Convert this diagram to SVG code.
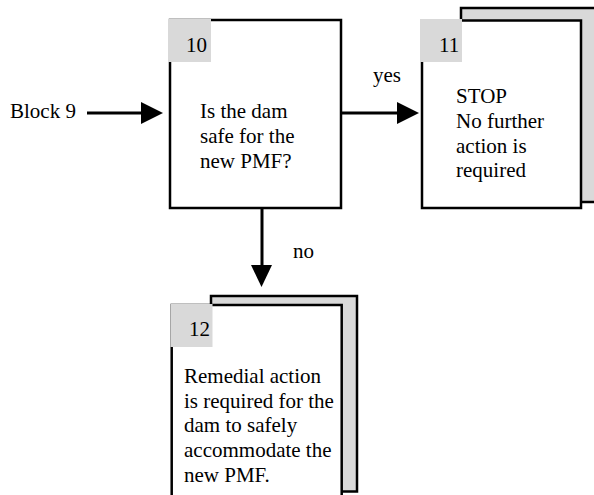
<svg xmlns="http://www.w3.org/2000/svg" width="594" height="495" viewBox="0 0 594 495">
<style>
text{font-family:"Liberation Serif","Times New Roman",serif;font-size:21px;fill:#000}
.box{fill:#fff;stroke:#000;stroke-width:2.5}
.shadow{fill:#d9d9d9;stroke:#000;stroke-width:2.5}
.tag{fill:#d9d9d9}
.ln{stroke:#000;stroke-width:3;fill:none}
.ah{fill:#000}
</style>
<rect width="594" height="495" fill="#fff"/>
<g id="connectors">
<text x="10" y="118">Block 9</text>
<line class="ln" x1="87" y1="113" x2="145" y2="113"/>
<polygon class="ah" points="141,102 163,113 141,124"/>
<line class="ln" x1="341" y1="113" x2="400" y2="113"/>
<polygon class="ah" points="397,102 419,113 397,124"/>
<text x="373" y="82">yes</text>
<line class="ln" x1="262" y1="208" x2="262" y2="268"/>
<polygon class="ah" points="251,265 272,265 261.5,287"/>
<text x="293" y="258">no</text>
</g>
<g id="node10">
<rect class="box" x="170" y="20" width="171" height="188"/>
<rect class="tag" x="168" y="19" width="43" height="43"/>
<text x="186" y="52">10</text>
<text x="200" y="118">Is the dam</text>
<text x="200" y="143">safe for the</text>
<text x="200" y="168">new PMF?</text>
</g>
<g id="node11">
<rect class="shadow" x="461" y="8" width="150" height="194"/>
<rect class="box" x="422" y="20.5" width="159" height="187.5"/>
<rect class="tag" x="420" y="19" width="42" height="43"/>
<text x="439" y="52">11</text>
<text x="456" y="103">STOP</text>
<text x="456" y="128">No further</text>
<text x="456" y="152.5">action is</text>
<text x="456" y="177">required</text>
</g>
<g id="node12">
<rect class="shadow" x="211" y="296" width="146" height="195.5"/>
<rect class="box" x="171.7" y="305" width="170" height="220"/>
<rect class="tag" x="170.5" y="304" width="42" height="43"/>
<text x="189" y="336">12</text>
<text x="184" y="383">Remedial action</text>
<text x="184" y="408">is required for the</text>
<text x="184" y="432">dam to safely</text>
<text x="184" y="457">accommodate the</text>
<text x="184" y="482">new PMF.</text>
</g>
</svg>
